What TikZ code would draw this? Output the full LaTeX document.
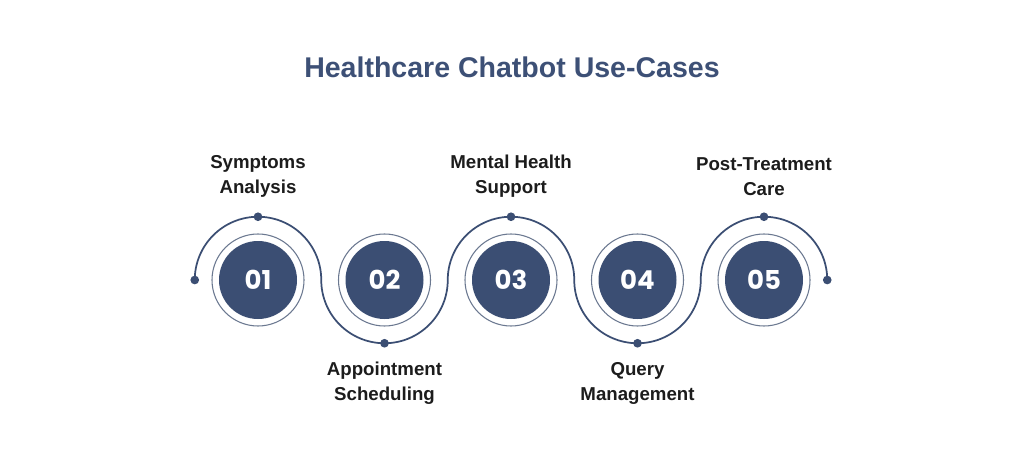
\documentclass[tikz,border=0pt]{standalone}
\usepackage{fontspec}
\usetikzlibrary{calc}
\setmainfont{Liberation Sans}
\newfontfamily\numfont{Poppins}
\definecolor{navy}{HTML}{3B4E73}
\definecolor{titlec}{HTML}{3D5076}
\definecolor{ringc}{HTML}{6B7890}
\definecolor{labelc}{HTML}{1C1C1C}
\begin{document}
\begin{tikzpicture}[x=0.75pt,y=-0.75pt,
  numdisc/.style={circle,fill=navy,minimum size=78*0.75pt,inner sep=0pt,text=white,font=\numfont\bfseries\fontsize{19.5pt}{22pt}\selectfont},
  ringc/.style={circle,draw=ringc,line width=0.8pt,minimum size=92*0.75pt,inner sep=0pt},
  lbl/.style={align=center,text=labelc,font=\bfseries\fontsize{14pt}{18.75pt}\selectfont,inner sep=0pt},
  dotc/.style={circle,fill=navy,inner sep=0pt,minimum size=6.5pt},
  wave/.style={draw=navy,line width=1.3pt}]
\useasboundingbox[fill=white] (0,0) rectangle (1024,456);
\node[font=\bfseries\fontsize{21.4pt}{24pt}\selectfont,text=titlec] (title) at (512,67) {Healthcare Chatbot Use-Cases};
% centers
\foreach \i/\x in {1/258,2/384.5,3/511,4/637.5,5/764}{
  \coordinate (c\i) at (\x,280);
}
% glow for 02
\fill[black!6] (c2) circle (44);
\fill[black!4] (c2) circle (46);
% wave
\def\r{63.25}
\draw[wave] (c1) ++(-\r,0) coordinate (start)
  arc(180:360:\r) arc(180:0:\r) arc(180:360:\r) arc(180:0:\r) arc(180:360:\r) coordinate (end);
% rings and discs
\foreach \i/\t in {1/01,2/02,3/03,4/04,5/05}{
  \node[ringc,fill=white] (ring\i) at (c\i) {};
  \node[numdisc] (n\i) at (c\i) {\t};
}
% dots
\node[dotc] (d0) at (start) {};
\node[dotc] (d6) at (end) {};
\node[dotc] (d1) at ($(c1)+(0,-\r)$) {};
\node[dotc] (d2) at ($(c2)+(0,\r)$) {};
\node[dotc] (d3) at ($(c3)+(0,-\r)$) {};
\node[dotc] (d4) at ($(c4)+(0,\r)$) {};
\node[dotc] (d5) at ($(c5)+(0,-\r)$) {};
% labels
\node[lbl] (l1) at (258,176.5) {Symptoms\\Analysis};
\node[lbl] (l2) at (384.5,383.5) {Appointment\\Scheduling};
\node[lbl] (l3) at (511,176.5) {Mental Health\\Support};
\node[lbl] (l4) at (637.5,383.5) {Query\\Management};
\node[lbl] (l5) at (764,176.5) {Post-Treatment\\Care};
\end{tikzpicture}
\end{document}
